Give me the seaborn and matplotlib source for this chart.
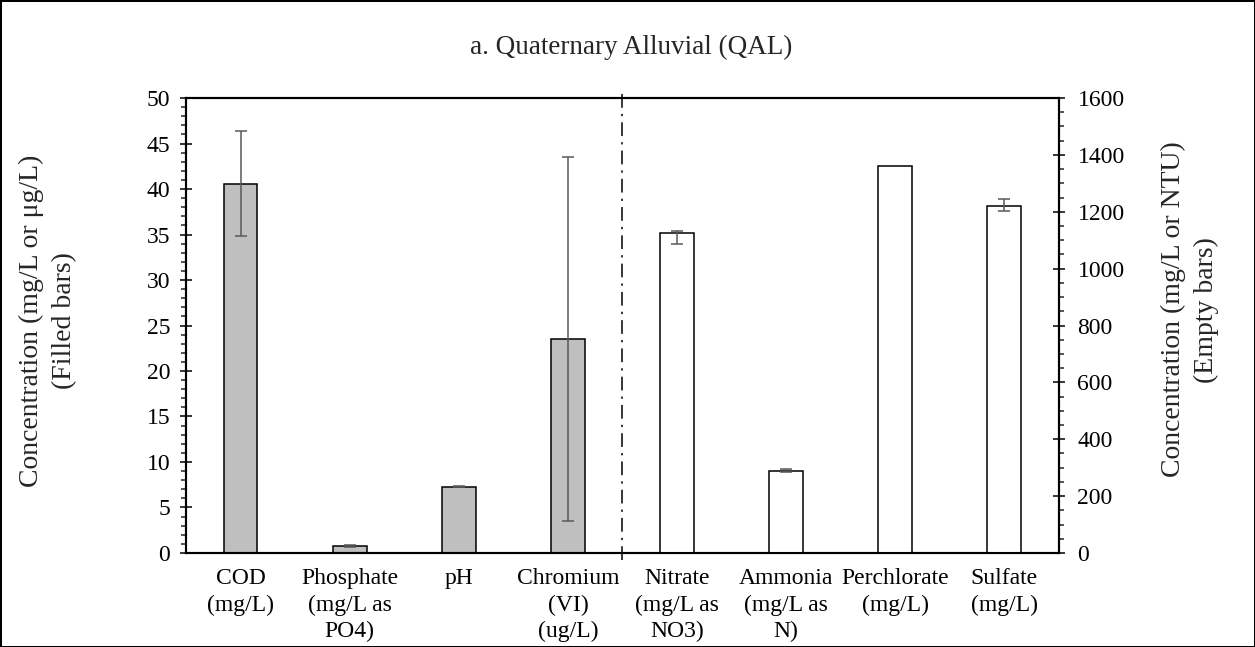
import numpy as np
import pandas as pd
import matplotlib
matplotlib.use('Agg')
import matplotlib.pyplot as plt
import seaborn as sns

# ---- data ----
filled_params = ['COD\n(mg/L)', 'Phosphate\n(mg/L as\nPO4)', 'pH', 'Chromium\n(VI)\n(ug/L)']
filled_values = [40.6, 0.73, 7.3, 23.5]
filled_err = [5.8, 0.1, 0.08, 20.0]

empty_params = ['Nitrate\n(mg/L as\nNO3)', 'Ammonia\n(mg/L as\nN)', 'Perchlorate\n(mg/L)', 'Sulfate\n(mg/L)']
empty_values = [1124, 289, 1361, 1222]
empty_err_low = [39, 5, 0, 20]
empty_err_high = [8, 5, 0, 22]

all_params = filled_params + empty_params

sns.set_theme(style='white')
plt.rcParams['font.family'] = ['Liberation Serif', 'DejaVu Serif']

df_filled = pd.DataFrame({'param': filled_params, 'value': filled_values})
df_empty = pd.DataFrame({'param': empty_params, 'value': empty_values})

fig = plt.figure(figsize=(12.55, 6.47), dpi=100, linewidth=2, edgecolor='black')
ax = fig.add_subplot(111)
fig.subplots_adjust(left=0.1482, right=0.8438, top=0.8485, bottom=0.1453)

# ---- filled bars (left axis) ----
sns.barplot(data=df_filled, x='param', y='value', order=all_params, ax=ax,
            color='#BFBFBF', saturation=1, edgecolor='black', linewidth=1.1,
            width=0.31, errorbar=None)
pos_f = np.array([all_params.index(p) for p in filled_params])
ax.errorbar(pos_f, filled_values, yerr=filled_err, fmt='none', ecolor='#595959',
            elinewidth=1.1, capsize=4, capthick=1.1, zorder=5)

ax.set_ylim(0, 50)
ax.set_yticks(np.arange(0, 51, 5))
ax.set_yticks(np.arange(0, 51, 1), minor=True)
ax.set_xlim(-0.5, len(all_params) - 0.5)

# divider between the two groups
ax.axvline(3.5, ymin=-0.016, ymax=1.008, color='black', lw=1.1,
           linestyle=(0, (9, 4, 1.5, 4)), clip_on=False, zorder=4)

# ---- empty bars (right axis) ----
ax2 = ax.twinx()
sns.barplot(data=df_empty, x='param', y='value', order=all_params, ax=ax2,
            color='white', saturation=1, edgecolor='black', linewidth=1.1,
            width=0.31, errorbar=None)
pos_e = np.array([all_params.index(p) for p in empty_params])
err_lo = np.array(empty_err_low)
err_hi = np.array(empty_err_high)
has_err = (err_lo + err_hi) > 0
ax2.errorbar(pos_e[has_err], np.array(empty_values)[has_err],
             yerr=[err_lo[has_err], err_hi[has_err]], fmt='none', ecolor='#595959',
             elinewidth=1.1, capsize=4, capthick=1.1, zorder=5)
ax2.set_ylim(0, 1600)
ax2.set_yticks(np.arange(0, 1601, 200))
ax2.set_yticks(np.arange(0, 1601, 50), minor=True)
ax2.set_xlim(-0.5, len(all_params) - 0.5)

# ---- axes styling ----
for a in (ax, ax2):
    for s in a.spines.values():
        s.set_color('black')
        s.set_linewidth(1.5)
    a.set_xlabel('')

ax.set_xticks(range(len(all_params)))
ax.set_xticklabels(all_params, fontsize=17, linespacing=1.32)
ax.tick_params(axis='x', length=0, pad=11, colors='black')
ax.tick_params(axis='y', which='major', direction='inout', length=8.6, width=1.1,
               labelsize=17, pad=7, colors='black', left=True)
ax.tick_params(axis='y', which='minor', direction='out', length=3.6, width=1.1, left=True)
ax2.tick_params(axis='y', which='major', direction='inout', length=8.6, width=1.1,
                labelsize=17, pad=9, colors='black', right=True)
ax2.tick_params(axis='y', which='minor', direction='out', length=3.6, width=1.1, right=True)

ax.set_ylabel('Concentration (mg/L or \u03bcg/L)\n(Filled bars)', fontsize=20,
              linespacing=1.45, va='center', ha='center')
ax.yaxis.set_label_coords(-0.158, 0.51)
ax2.set_ylabel('Concentration (mg/L or NTU)\n(Empty bars)', fontsize=20,
               linespacing=1.45, va='center', ha='center')
ax2.yaxis.set_label_coords(1.15, 0.535)

fig.text(0.503, 0.927, 'a. Quaternary Alluvial (QAL)', ha='center', va='center', fontsize=19.5)

fig.savefig('out.png', dpi=100, edgecolor=fig.get_edgecolor())
